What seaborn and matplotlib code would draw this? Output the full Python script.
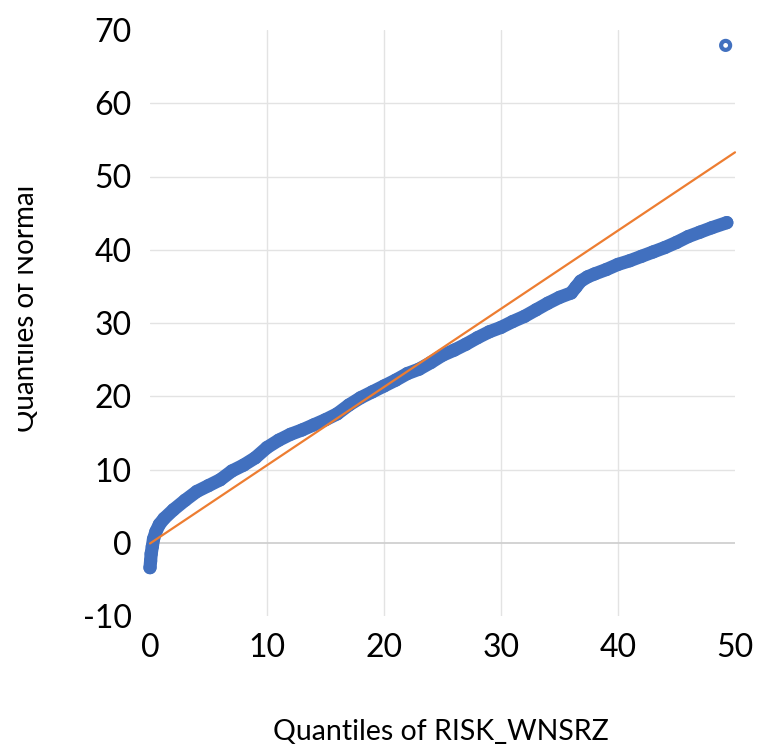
import matplotlib
matplotlib.use("Agg")
import matplotlib.pyplot as plt
from matplotlib.patches import Rectangle
import seaborn as sns
import numpy as np

# ---- data (Q-Q plot) ----
q_risk = [0.0, 0.05, 0.1, 0.2, 0.3, 0.5, 0.8, 1.2, 2, 3, 4, 5, 6, 7, 8, 9, 10,
          11, 12, 13, 14, 15, 16, 17, 18, 19, 20, 21, 22, 23, 24, 25, 26, 27,
          28, 29, 30, 31, 32, 33, 34, 35, 36, 36.4, 36.8, 37.4, 38, 39, 40, 41, 42,
          43, 44, 45, 46, 47, 48, 49.3, 49.2]
q_normal = [-3.4, -2.5, -1.5, -0.5, 0.5, 1.5, 2.5, 3.3, 4.5, 5.8, 7.0, 7.8, 8.6,
            9.8, 10.6, 11.6, 13.0, 14.0, 14.8, 15.4, 16.1, 16.8, 17.6, 18.8,
            19.8, 20.6, 21.4, 22.2, 23.1, 23.7, 24.6, 25.6, 26.3, 27.1, 28.0,
            28.8, 29.4, 30.2, 30.9, 31.8, 32.7, 33.5, 34.1, 34.9, 35.7, 36.3, 36.7,
            37.3, 38.0, 38.5, 39.1, 39.7, 40.3, 41.0, 41.8, 42.4, 43.0, 43.7,
            67.9]
ref_x = [0, 50]
ref_y = [-0.1, 53.3]
x_ticks = [0, 10, 20, 30, 40, 50]
y_ticks = [-10, 0, 10, 20, 30, 40, 50, 60, 70]
x_title = "Quantiles of RISK_WNSRZ"
y_title = "Quantiles of Normal"

BLUE = "#4170BF"
ORANGE = "#ED7D31"

sns.set_style("white")
plt.rcParams["font.family"] = ["Lato", "DejaVu Sans"]
plt.rcParams["axes.unicode_minus"] = False

W, H = 759, 750
fig = plt.figure(figsize=(W / 100, H / 100), dpi=100)
ax = fig.add_axes([150 / W, 1 - 616 / H, 585 / W, 586 / H])

# dense point band (drawn as thick stroke under the markers)
sns.lineplot(x=q_risk[:-1], y=q_normal[:-1], ax=ax, color=BLUE, lw=9.5,
             estimator=None, sort=False, solid_capstyle="round",
             solid_joinstyle="round", clip_on=False, zorder=3)
sns.scatterplot(x=q_risk, y=q_normal, ax=ax, s=42, color=BLUE, zorder=4,
                clip_on=False)
coll = ax.collections[-1]
coll.set_facecolor("none")
coll.set_edgecolor(BLUE)
coll.set_linewidth(3.0)

sns.lineplot(x=ref_x, y=ref_y, ax=ax, color=ORANGE, lw=1.6, estimator=None,
             sort=False, zorder=5, clip_on=False)

ax.set_xlim(0, 50)
ax.set_ylim(-10, 70)
ax.set_xticks(x_ticks)
ax.set_yticks(y_ticks)
ax.grid(True, color="#E3E3E3", lw=1.0, zorder=0)
ax.set_axisbelow(True)
for i, gl in enumerate(ax.xaxis.get_gridlines()):
    if x_ticks[i] in (0, 50):
        gl.set_visible(False)
for i, gl in enumerate(ax.yaxis.get_gridlines()):
    if y_ticks[i] in (-10, 0, 70):
        gl.set_visible(False)
ax.axhline(0, color="#D0D0D0", lw=1.3, zorder=1)
for s in ax.spines.values():
    s.set_visible(False)
ax.tick_params(axis="both", length=0, labelsize=23, colors="black")
ax.tick_params(axis="y", pad=13)
ax.tick_params(axis="x", pad=12)
ax.set_xlabel("")
ax.set_ylabel("")

fig.text(441 / W, 1 - 740 / H, x_title, ha="center", va="baseline",
         fontsize=20.5, color="black")
fig.text(39 / W, 1 - 308 / H, y_title, ha="right", va="center",
         rotation=90, fontsize=20, color="black", zorder=3)
fig.add_artist(Rectangle((0, 0), 18 / W, 1, transform=fig.transFigure,
                         facecolor="white", edgecolor="none", zorder=10))

fig.savefig("out.png", dpi=100)
